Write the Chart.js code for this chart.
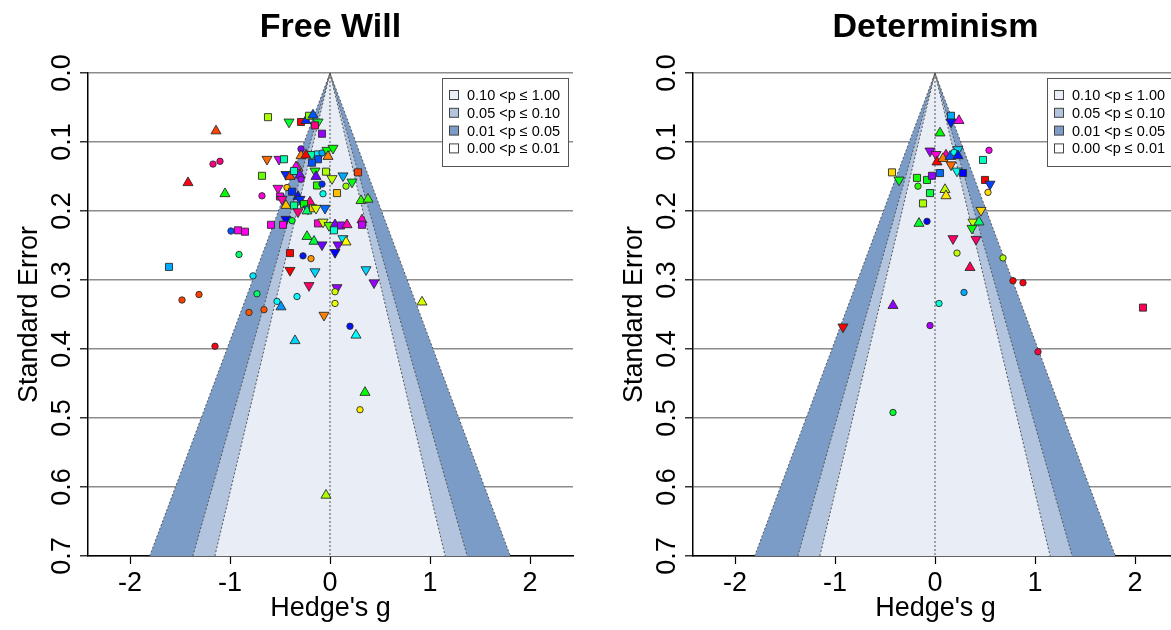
<!DOCTYPE html>
<html>
<head>
<meta charset="utf-8">
<script src="https://cdn.jsdelivr.net/npm/chart.js@4.4.1/dist/chart.umd.min.js"></script>
<style>
  html, body { margin: 0; padding: 0; background: #fff; overflow: hidden; width: 1171px; height: 630px; }
  .panel { position: absolute; top: 0; width: 605px; height: 630px; }
</style>
</head>
<body>
<div class="panel" style="left:0"><canvas id="freeWill" width="605" height="630"></canvas></div>
<div class="panel" style="left:605px"><canvas id="determinism" width="605" height="630"></canvas></div>
<script>
// axes
const xTicks = [-2, -1, 0, 1, 2];
const xTickLabels = ['-2', '-1', '0', '1', '2'];
const seTicks = [0, 0.1, 0.2, 0.3, 0.4, 0.5, 0.6, 0.7];
const seTickLabels = ['0.0', '0.1', '0.2', '0.3', '0.4', '0.5', '0.6', '0.7'];
const xTitle = "Hedge's g";
const yTitle = 'Standard Error';

// contour levels (z for p = .10, .05, .01) and legend
const zCrit = [1.645, 1.96, 2.576];
const legendLabels = ['0.10 <p \u2264 1.00', '0.05 <p \u2264 0.10', '0.01 <p \u2264 0.05', '0.00 <p \u2264 0.01'];
const legendColors = ['#e9edf5', '#b2c4de', '#7b9cc7', '#ffffff'];

// Free Will studies: effect size, SE, marker shape, hue
const fwG = [-0.62,-0.41,-0.29,-0.24,-0.21,-0.17,-0.12,-0.15,-0.08,-1.14,
  -1.17,-1.10,-1.42,-1.05,-0.68,-0.68,-0.63,-0.51,-0.46,-0.29,
  -0.29,-0.24,-0.18,-0.12,-0.08,-0.03,0.03,-0.02,-0.12,-0.18,
  -0.44,-0.40,-0.32,-0.34,-0.36,-0.30,-0.29,-0.15,-0.14,0.02,
  -0.04,-0.13,-0.08,-0.07,0.07,0.28,0.13,0.22,0.16,0.31,
  0.38,-0.52,-0.43,-0.38,-0.32,-0.50,-0.48,-0.44,-0.36,-0.20,
  -0.30,-0.26,-0.22,-0.32,-0.23,-0.17,-0.14,-0.05,-0.44,-0.38,
  -0.59,-0.47,-0.99,-0.92,-0.85,-0.12,-0.07,-0.01,0.05,0.11,
  0.17,0.32,0.32,0.04,-0.23,-0.16,-0.08,0.13,0.16,0.08,
  0.05,-0.40,-0.27,-0.19,-0.91,-1.61,-0.77,-0.73,-1.48,-1.31,
  -0.81,-0.66,-0.53,-0.49,-0.33,-1.15,-0.35,-0.40,-0.15,-0.21,
  0.07,0.05,0.05,-0.06,0.20,0.26,0.36,0.44,0.92,0.35,
  0.30,-0.04];
const fwSE = [.064,.071,.071,.069,.062,.061,.071,.076,.088,.084,
  .132,.128,.159,.175,.178,.149,.125,.125,.125,.110,
  .120,.119,.118,.118,.116,.112,.109,.121,.125,.130,
  .147,.150,.138,.136,.142,.148,.154,.142,.150,.153,
  .143,.163,.161,.175,.174,.144,.149,.158,.164,.185,
  .183,.167,.166,.172,.179,.179,.183,.192,.192,.187,
  .183,.190,.197,.201,.200,.196,.196,.196,.212,.214,
  .220,.220,.229,.228,.230,.218,.216,.221,.220,.221,
  .220,.213,.220,.228,.237,.244,.249,.240,.245,.249,
  .260,.261,.265,.269,.263,.281,.294,.320,.329,.321,
  .347,.343,.331,.339,.324,.396,.388,.286,.288,.308,
  .311,.317,.334,.351,.367,.380,.285,.304,.332,.463,
  .488,.612];
const fwShape = ['s','v','s','t','s','t','v','s','s','t',
  'c','c','t','t','c','s','v','v','s','c',
  't','t','v','s','c','v','v','t','s','s',
  'v','t','t','t','s','t','c','v','t','v',
  's','s','c','c','s','s','v','v','c','t',
  't','v','c','s','t','s','v','t','s','t',
  'v','s','v','v','t','s','v','v','v','c',
  's','s','c','s','s','s','v','v','t','s',
  't','t','s','s','t','t','v','v','t','v',
  'v','s','c','c','c','s','c','c','c','c',
  'c','c','c','t','c','c','t','v','v','v',
  'v','c','c','v','c','t','v','v','t','t',
  'c','t'];
const fwHue = [80,130,0,230,90,220,130,330,275,15,
  330,330,355,120,310,95,25,290,160,270,
  30,0,160,185,200,120,120,30,220,220,
  230,15,45,300,165,270,280,115,265,75,
  80,110,230,175,45,15,200,125,85,110,
  105,310,45,230,235,305,320,45,155,330,
  230,120,220,330,145,45,70,215,240,130,
  305,305,220,305,305,310,70,100,270,280,
  320,315,285,170,125,135,265,185,60,270,
  240,0,235,35,145,200,185,145,15,15,
  20,20,180,205,180,355,190,0,190,335,
  275,70,65,30,235,180,190,275,70,120,
  55,80];

// Determinism studies
const dtG = [0.16,0.16,0.24,0.05,-0.05,0.01,0.02,0.11,0.08,0.15,
  0.16,0.23,0.19,0.23,0.22,0.28,0.54,0.48,0.50,0.55,
  0.53,-0.43,-0.36,-0.18,-0.17,-0.08,-0.03,0.05,-0.05,0.10,
  0.11,-0.12,0.46,-0.16,-0.08,0.38,0.44,0.37,0.18,0.41,
  0.22,0.68,0.35,0.78,0.88,0.29,0.04,-0.42,-0.92,-0.05,
  2.08,1.03,-0.42];
const dtSE = [.062,.071,.069,.087,.113,.118,.129,.119,.124,.121,
  .133,.111,.115,.120,.142,.145,.112,.126,.155,.161,
  .173,.144,.155,.152,.164,.155,.149,.145,.174,.169,
  .178,.189,.199,.218,.215,.216,.216,.225,.240,.241,
  .261,.268,.282,.301,.304,.318,.334,.337,.368,.366,
  .340,.404,.492];
const dtShape = ['s','v','t','t','v','v','t','t','t','t',
  'v','v','c','t','v','s','c','s','s','v',
  'c','s','v','s','c','s','s','s','s','t',
  't','s','v','t','c','v','t','v','v','v',
  'c','c','t','c','c','c','c','t','v','c',
  's','c','c'];
const dtHue = [200,235,305,120,280,310,0,320,30,220,
  25,190,175,235,175,240,305,165,0,225,
  52,50,125,115,110,125,275,215,135,75,
  55,80,50,130,240,75,145,120,335,335,
  75,80,340,0,355,200,170,275,0,280,
  340,345,130];

const seMax = 0.7;
const fontFamily = '"Liberation Sans", Arial, sans-serif';

const markerStyle = {
  c: { style: 'circle', radius: 3.2, rot: 0 },
  s: { style: 'rect', radius: 5, rot: 0 },
  t: { style: 'triangle', radius: 5.8, rot: 0 },
  v: { style: 'triangle', radius: 5.8, rot: 180 },
};

// titles, rotated y labels and legend
const panelText = {
  id: 'panelText',
  afterDraw(chart, args, opts) {
    const { ctx, chartArea: a, scales } = chart;
    const cx = (a.left + a.right) / 2;
    ctx.save();
    ctx.fillStyle = '#000';
    ctx.textAlign = 'center';
    ctx.textBaseline = 'middle';
    ctx.font = 'bold 34px ' + fontFamily;
    ctx.fillText(opts.title, cx, 28);

    ctx.font = '27px ' + fontFamily;
    ctx.fillText(xTitle, cx, 609);
    ctx.save();
    ctx.translate(30, (a.top + a.bottom) / 2);
    ctx.rotate(-Math.PI / 2);
    ctx.fillText(yTitle, 0, 0);
    ctx.restore();

    ctx.font = '27px ' + fontFamily;
    seTicks.forEach((v, i) => {
      ctx.save();
      ctx.translate(63, scales.y.getPixelForValue(v));
      ctx.rotate(-Math.PI / 2);
      ctx.fillText(seTickLabels[i], 0, 0);
      ctx.restore();
    });

    // legend box
    const bx = a.right - 131, by = a.top + 5, bw = 126, bh = 88;
    ctx.fillStyle = '#fff';
    ctx.fillRect(bx, by, bw, bh);
    ctx.strokeStyle = '#555';
    ctx.lineWidth = 1;
    ctx.strokeRect(bx + 0.5, by + 0.5, bw, bh);
    ctx.font = '14.5px ' + fontFamily;
    ctx.textAlign = 'left';
    legendLabels.forEach((lab, i) => {
      const ry = by + 17 + i * 17.8;
      ctx.fillStyle = legendColors[i];
      ctx.fillRect(bx + 7.5, ry - 4.5, 9, 9);
      ctx.strokeStyle = '#444';
      ctx.strokeRect(bx + 7.5, ry - 4.5, 9, 9);
      ctx.fillStyle = '#000';
      ctx.fillText(lab, bx + 25, ry + 1);
    });
    ctx.restore();
  }
};

function makeFunnel(canvasId, title, gs, ses, shapes, hues) {
  const datasets = [];
  datasets.push({
    data: gs.map((g, i) => ({ x: g, y: ses[i] })),
    pointStyle: shapes.map(s => markerStyle[s].style),
    pointRadius: shapes.map(s => markerStyle[s].radius),
    pointRotation: shapes.map(s => markerStyle[s].rot),
    pointBackgroundColor: hues.map(h => `hsl(${h}, 100%, 50%)`),
    pointBorderColor: '#2b2b2b',
    pointBorderWidth: 0.9,
    showLine: false,
    order: 0,
  });
  // dotted contour edges and centre line
  zCrit.forEach(z => {
    datasets.push({
      data: [{ x: -z * seMax, y: seMax }, { x: 0, y: 0 }, { x: z * seMax, y: seMax }],
      showLine: true, borderColor: '#555', borderWidth: 1, borderDash: [2, 2],
      pointRadius: 0, fill: false, order: 1,
    });
  });
  datasets.push({
    data: [{ x: 0, y: 0 }, { x: 0, y: seMax }],
    showLine: true, borderColor: '#555', borderWidth: 1, borderDash: [2, 2],
    pointRadius: 0, fill: false, order: 1,
  });
  // shaded regions: widest (darkest) drawn first
  zCrit.forEach((z, k) => {
    datasets.push({
      data: [{ x: -z * seMax, y: seMax }, { x: 0, y: 0 }, { x: z * seMax, y: seMax }],
      showLine: true, borderColor: 'rgba(0,0,0,0)', borderWidth: 0,
      backgroundColor: legendColors[k], fill: { value: seMax },
      pointRadius: 0, order: 2 + k,
    });
  });

  return new Chart(document.getElementById(canvasId), {
    type: 'scatter',
    data: { datasets },
    plugins: [panelText],
    options: {
      responsive: false,
      animation: false,
      layout: { padding: { top: 73, right: 32, left: 0, bottom: 0 } },
      plugins: {
        legend: { display: false },
        tooltip: { enabled: false },
        panelText: { title },
      },
      scales: {
        x: {
          type: 'linear', min: -2.42, max: 2.43,
          afterBuildTicks: s => { s.ticks = xTicks.map(v => ({ value: v })); },
          afterFit: s => { s.height = 74; },
          ticks: {
            callback: (v, i) => xTickLabels[i],
            color: '#000', padding: 3,
            font: { family: fontFamily, size: 27 },
            maxRotation: 0,
          },
          grid: { drawOnChartArea: false, drawTicks: true, tickLength: 8, tickColor: '#000', tickWidth: 1.2 },
          border: { color: '#000', width: 1.5 },
        },
        y: {
          type: 'linear', min: 0, max: seMax, reverse: true,
          afterBuildTicks: s => { s.ticks = seTicks.map(v => ({ value: v })); },
          afterFit: s => { s.width = 88; },
          ticks: { display: false },
          grid: { color: '#8c8c8c', lineWidth: 1.6, drawTicks: true, tickLength: 8, tickColor: '#000', tickWidth: 1.2 },
          border: { color: '#000', width: 1.5 },
        },
      },
    },
  });
}

makeFunnel('freeWill', 'Free Will', fwG, fwSE, fwShape, fwHue);
makeFunnel('determinism', 'Determinism', dtG, dtSE, dtShape, dtHue);
</script>
</body>
</html>
